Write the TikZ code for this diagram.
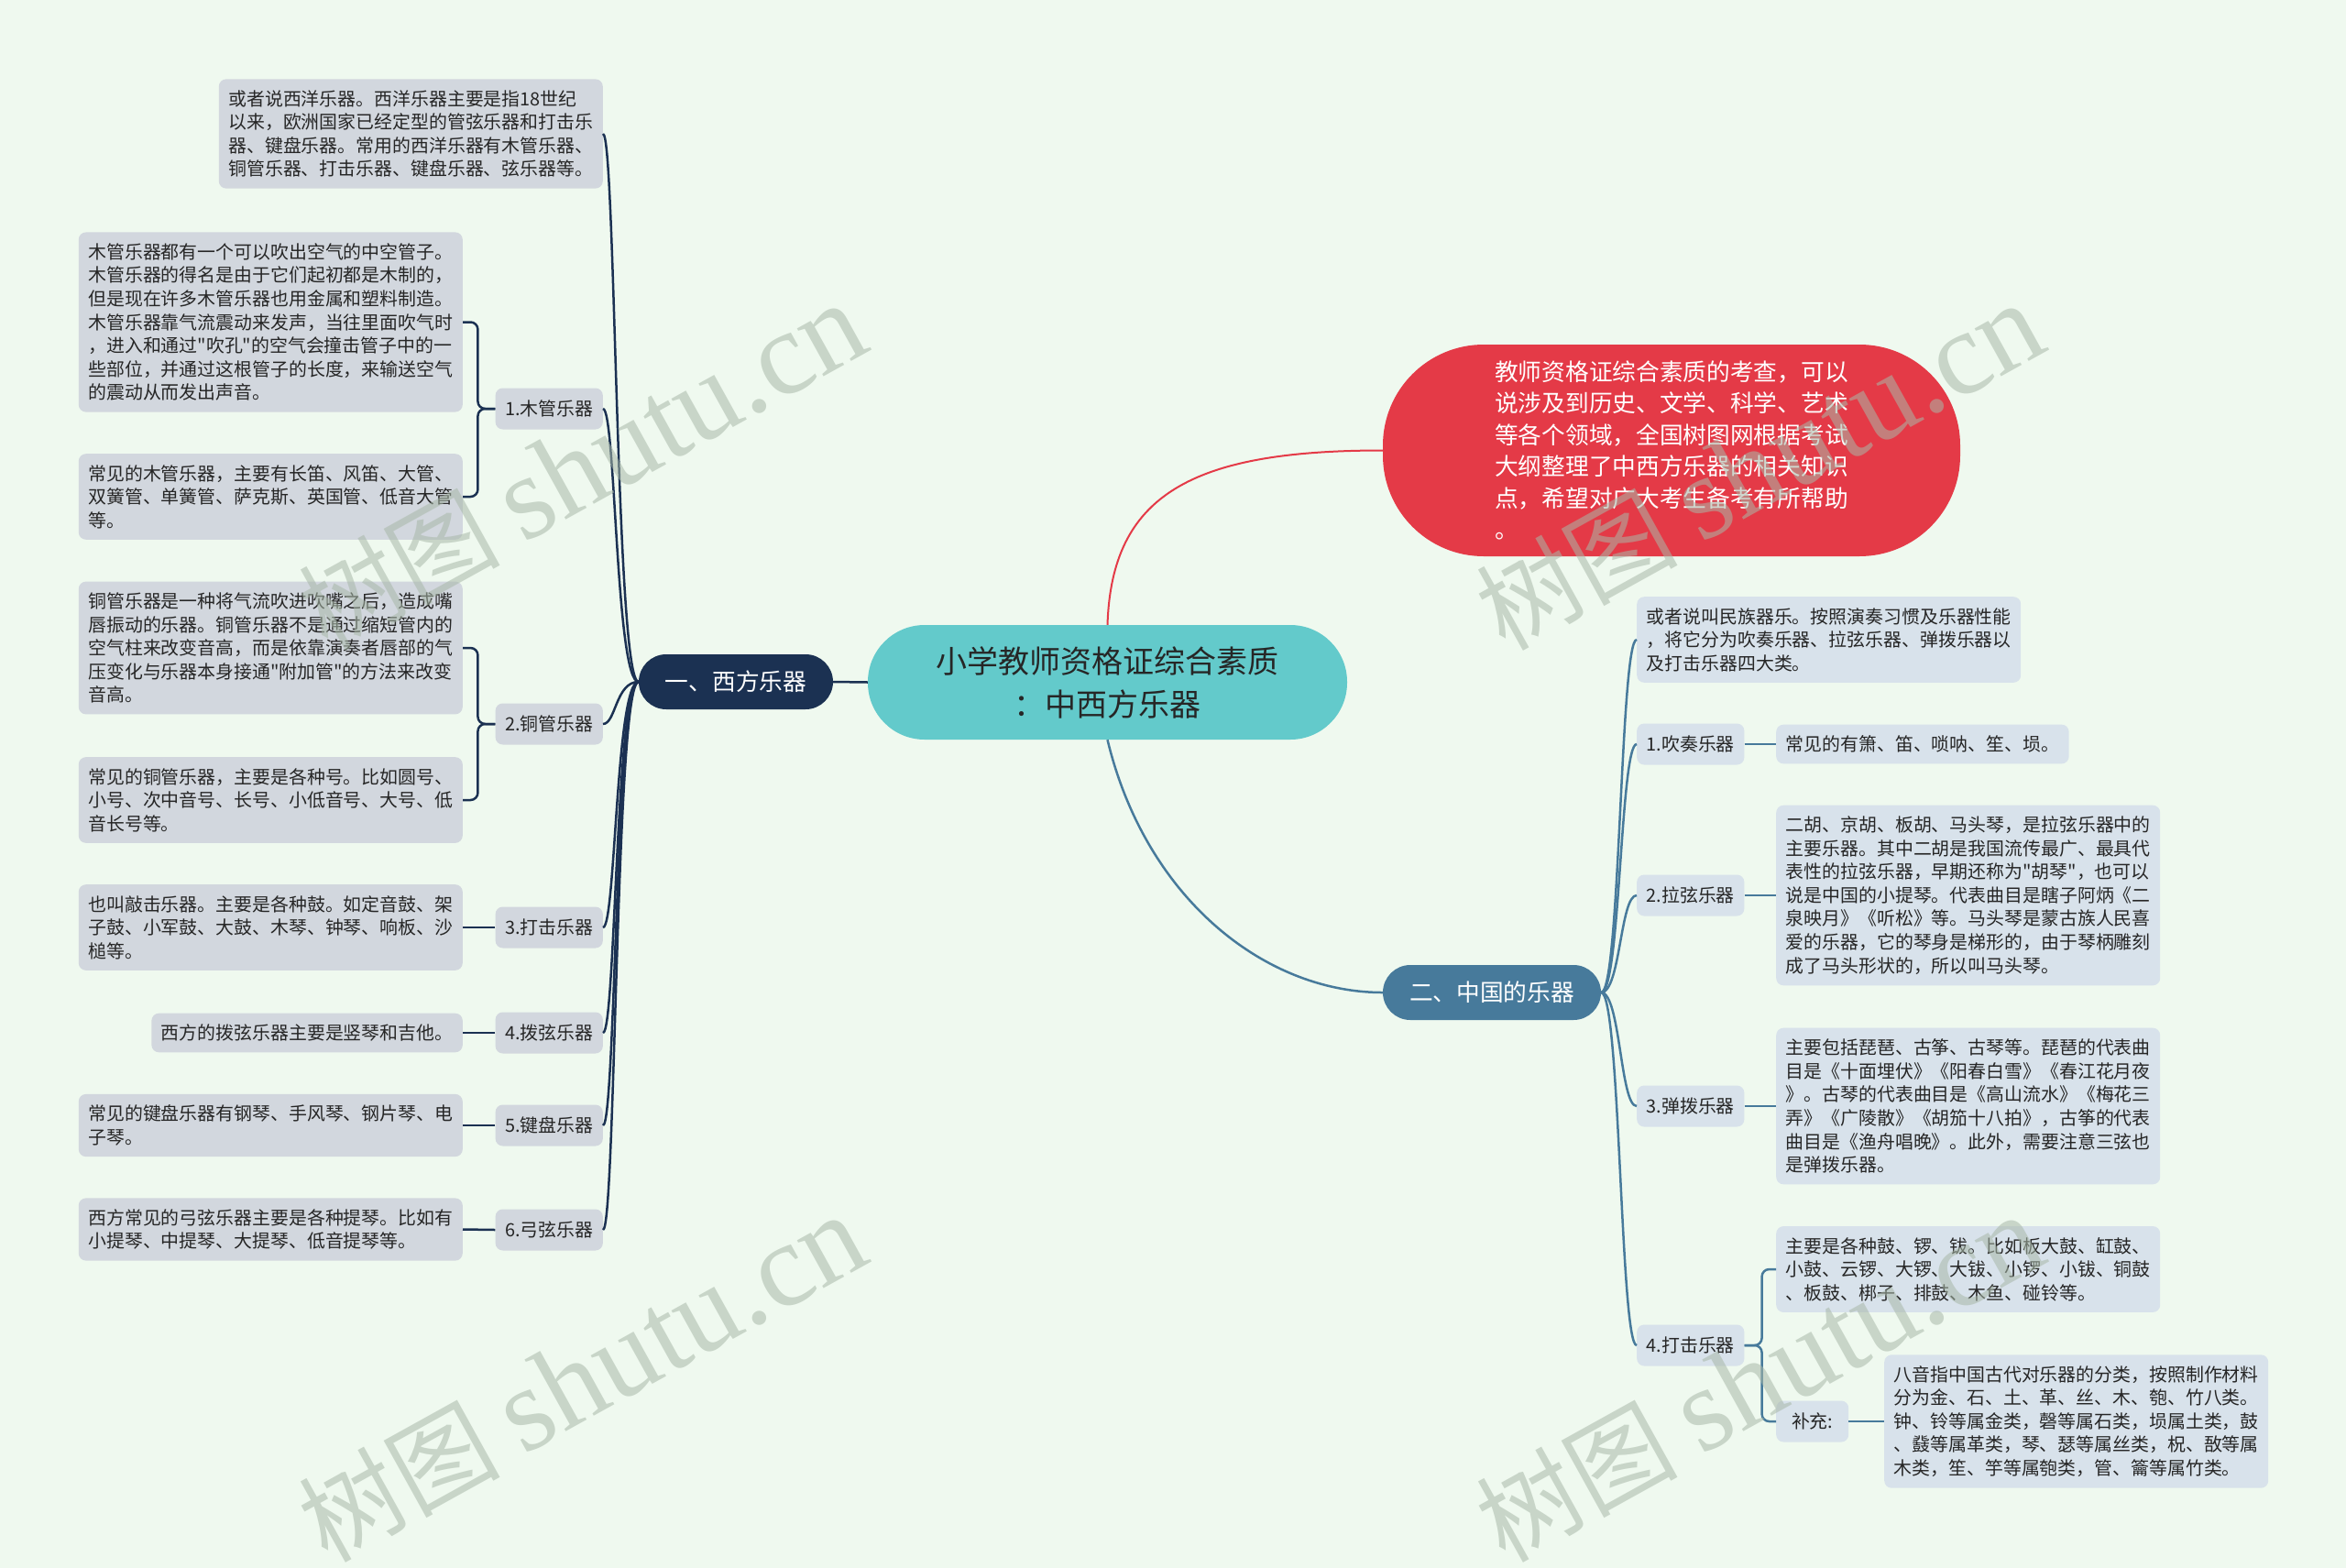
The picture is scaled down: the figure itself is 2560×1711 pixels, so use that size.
\documentclass[tikz,border=0pt]{standalone}
\usepackage{fontspec}
\setmainfont{Noto Sans CJK SC}[Ligatures=TeXOff]
\newfontfamily\wmlatin{Liberation Serif}
\usetikzlibrary{positioning}

\definecolor{bgmint}{HTML}{EFF9EF}
\definecolor{rootteal}{HTML}{63CACB}
\definecolor{occnavy}{HTML}{1B3152}
\definecolor{chinablue}{HTML}{477A9B}
\definecolor{introred}{HTML}{E43A47}
\definecolor{leafgray}{HTML}{D2D7DE}
\definecolor{leafblue}{HTML}{D8E2EB}
\definecolor{inkdark}{HTML}{262626}
\definecolor{wmgray}{HTML}{A8B8A8}

\begin{document}
\begin{tikzpicture}[
    x=1pt, y=-1pt,
    every node/.style={text=inkdark},
    leaf/.style={rounded corners=8pt, align=left, inner xsep=10.5pt, inner ysep=12pt,
        font=\fontsize{19.9}{25.6}\selectfont},
    occleaf/.style={leaf, fill=leafgray},
    chleaf/.style={leaf, fill=leafblue},
    sub/.style={minimum height=45pt},
    branch/.style={rounded corners=30pt, minimum height=60pt, text=white,
        font=\fontsize{25.7}{30}\selectfont},
    occline/.style={draw=occnavy, line width=2.5pt},
    chline/.style={draw=chinablue, line width=2.5pt},
    wmark/.style={text=wmgray, text opacity=0.55, rotate=29}
]
    \useasboundingbox (0,0) rectangle (2560,1711);
    \fill[bgmint] (0,0) rectangle (2560,1711);

    % ---- centre ----
    \node[fill=rootteal, rounded corners=62pt, minimum width=523pt, minimum height=125pt,
        align=center, text=inkdark, font=\fontsize{34}{47}\selectfont]
        (root) at (1208.5,744.5) {小学教师资格证综合素质\\：中西方乐器};

    \node[fill=introred, rounded corners=110pt, minimum width=630pt, minimum height=231pt,
        align=left, text=white, font=\fontsize{25.7}{34.4}\selectfont]
        (intro) at (1824,491.5) {教师资格证综合素质的考查，可以\\
        说涉及到历史、文学、科学、艺术\\
        等各个领域，全国树图网根据考试\\
        大纲整理了中西方乐器的相关知识\\
        点，希望对广大考生备考有所帮助\\
        。};

    \node[branch, fill=occnavy, minimum width=212pt] (occ) at (803,744) {一、西方乐器};
    \node[branch, fill=chinablue, minimum width=238pt] (china) at (1628,1083) {二、中国的乐器};

    % ---- western side ----
    \node[occleaf, anchor=east] (ocTop) at (658,146) {或者说西洋乐器。西洋乐器主要是指18世纪\\
        以来，欧洲国家已经定型的管弦乐器和打击乐\\
        器、键盘乐器。常用的西洋乐器有木管乐器、\\
        铜管乐器、打击乐器、键盘乐器、弦乐器等。};

    \node[occleaf, sub, anchor=east] (wood) at (658,446) {1.木管乐器};
    \node[occleaf, anchor=east] (woodA) at (505,351.5) {木管乐器都有一个可以吹出空气的中空管子。\\
        木管乐器的得名是由于它们起初都是木制的，\\
        但是现在许多木管乐器也用金属和塑料制造。\\
        木管乐器靠气流震动来发声，当往里面吹气时\\
        ，进入和通过"吹孔"的空气会撞击管子中的一\\
        些部位，并通过这根管子的长度，来输送空气\\
        的震动从而发出声音。};
    \node[occleaf, anchor=east] (woodB) at (505,542) {常见的木管乐器，主要有长笛、风笛、大管、\\
        双簧管、单簧管、萨克斯、英国管、低音大管\\
        等。};

    \node[occleaf, sub, anchor=east] (brass) at (658,790) {2.铜管乐器};
    \node[occleaf, anchor=east] (brassA) at (505,707) {铜管乐器是一种将气流吹进吹嘴之后，造成嘴\\
        唇振动的乐器。铜管乐器不是通过缩短管内的\\
        空气柱来改变音高，而是依靠演奏者唇部的气\\
        压变化与乐器本身接通"附加管"的方法来改变\\
        音高。};
    \node[occleaf, anchor=east] (brassB) at (505,873) {常见的铜管乐器，主要是各种号。比如圆号、\\
        小号、次中音号、长号、小低音号、大号、低\\
        音长号等。};

    \node[occleaf, sub, anchor=east] (drum) at (658,1012) {3.打击乐器};
    \node[occleaf, anchor=east] (drumA) at (505,1012) {也叫敲击乐器。主要是各种鼓。如定音鼓、架\\
        子鼓、小军鼓、大鼓、木琴、钟琴、响板、沙\\
        槌等。};

    \node[occleaf, sub, anchor=east] (pluck) at (658,1127) {4.拨弦乐器};
    \node[occleaf, anchor=east] (pluckA) at (505,1127) {西方的拨弦乐器主要是竖琴和吉他。};

    \node[occleaf, sub, anchor=east] (keys) at (658,1228) {5.键盘乐器};
    \node[occleaf, anchor=east] (keysA) at (505,1228) {常见的键盘乐器有钢琴、手风琴、钢片琴、电\\
        子琴。};

    \node[occleaf, sub, anchor=east] (bow) at (658,1342) {6.弓弦乐器};
    \node[occleaf, anchor=east] (bowA) at (505,1341.5) {西方常见的弓弦乐器主要是各种提琴。比如有\\
        小提琴、中提琴、大提琴、低音提琴等。};

    % ---- chinese side ----
    \node[chleaf, anchor=west] (chTop) at (1786,698) {或者说叫民族器乐。按照演奏习惯及乐器性能\\
        ，将它分为吹奏乐器、拉弦乐器、弹拨乐器以\\
        及打击乐器四大类。};

    \node[chleaf, sub, anchor=west] (wind) at (1786,812) {1.吹奏乐器};
    \node[chleaf, anchor=west] (windA) at (1938,812) {常见的有箫、笛、唢呐、笙、埙。};

    \node[chleaf, sub, anchor=west] (erhu) at (1786,977) {2.拉弦乐器};
    \node[chleaf, anchor=west] (erhuA) at (1938,977) {二胡、京胡、板胡、马头琴，是拉弦乐器中的\\
        主要乐器。其中二胡是我国流传最广、最具代\\
        表性的拉弦乐器，早期还称为"胡琴"，也可以\\
        说是中国的小提琴。代表曲目是瞎子阿炳《二\\
        泉映月》《听松》等。马头琴是蒙古族人民喜\\
        爱的乐器，它的琴身是梯形的，由于琴柄雕刻\\
        成了马头形状的，所以叫马头琴。};

    \node[chleaf, sub, anchor=west] (pipa) at (1786,1207) {3.弹拨乐器};
    \node[chleaf, anchor=west] (pipaA) at (1938,1207) {主要包括琵琶、古筝、古琴等。琵琶的代表曲\\
        目是《十面埋伏》《阳春白雪》《春江花月夜\\
        》。古琴的代表曲目是《高山流水》《梅花三\\
        弄》《广陵散》《胡笳十八拍》，古筝的代表\\
        曲目是《渔舟唱晚》。此外，需要注意三弦也\\
        是弹拨乐器。};

    \node[chleaf, sub, anchor=west] (gong) at (1786,1468) {4.打击乐器};
    \node[chleaf, anchor=west] (gongA) at (1938,1385) {主要是各种鼓、锣、钹。比如板大鼓、缸鼓、\\
        小鼓、云锣、大锣、大钹、小锣、小钹、铜鼓\\
        、板鼓、梆子、排鼓、木鱼、碰铃等。};
    \node[chleaf, sub, anchor=west, minimum width=79pt] (supp) at (1938,1551) {补充:};
    \node[chleaf, anchor=west] (suppA) at (2056,1551) {八音指中国古代对乐器的分类，按照制作材料\\
        分为金、石、土、革、丝、木、匏、竹八类。\\
        钟、铃等属金类，磬等属石类，埙属土类，鼓\\
        、鼗等属革类，琴、瑟等属丝类，柷、敔等属\\
        木类，笙、竽等属匏类，管、籥等属竹类。};

    % ---- connectors ----
    \draw[occline] (root.west) -- (occ.east);
    \draw[draw=introred, line width=2pt] (root.north) .. controls (1213,540) and (1300,491.5) .. (intro.west);
    \draw[chline] (root.south) .. controls (1250,980) and (1380,1083) .. (china.west);

    \foreach \n in {ocTop, wood, brass, drum, pluck, keys, bow}
        \draw[occline] (occ.west) .. controls +(-25,0) and +(14,0) .. (\n.east);
    \foreach \n in {chTop, wind, erhu, pipa, gong}
        \draw[chline] (china.east) .. controls +(21,0) and +(-18,0) .. (\n.west);

    \draw[occline, rounded corners=8pt] (wood.west) -- ++(-19,0) |- (woodA.east);
    \draw[occline, rounded corners=8pt] (wood.west) -- ++(-19,0) |- (woodB.east);
    \draw[occline, rounded corners=8pt] (brass.west) -- ++(-19,0) |- (brassA.east);
    \draw[occline, rounded corners=8pt] (brass.west) -- ++(-19,0) |- (brassB.east);
    \draw[occline] (drum.west) -- (drumA.east);
    \draw[occline] (pluck.west) -- (pluckA.east);
    \draw[occline] (keys.west) -- (keysA.east);
    \draw[occline] (bow.west) -- (bowA.east);

    \draw[chline] (wind.east) -- (windA.west);
    \draw[chline] (erhu.east) -- (erhuA.west);
    \draw[chline] (pipa.east) -- (pipaA.west);
    \draw[chline, rounded corners=8pt] (gong.east) -- ++(19,0) |- (gongA.west);
    \draw[chline, rounded corners=8pt] (gong.east) -- ++(19,0) |- (supp.west);
    \draw[chline] (supp.east) -- (suppA.west);

    % ---- watermarks ----
    \foreach \p [count=\i] in {(635,510), (1920,510), (635,1505), (1920,1505)}
        \node[wmark] (wm\i) at \p {\fontsize{110}{120}\selectfont 树图\hspace{25pt}{\wmlatin\fontsize{130}{140}\selectfont shutu.cn}};
\end{tikzpicture}
\end{document}
